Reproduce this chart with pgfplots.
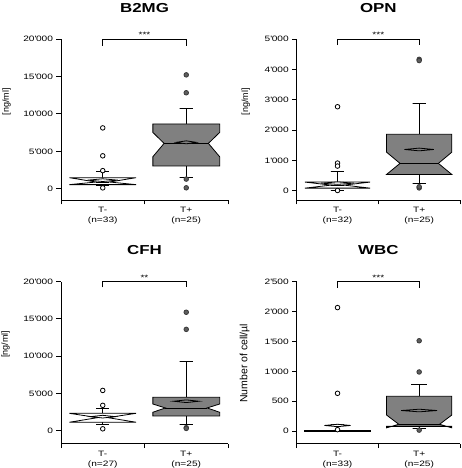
\documentclass[border=0pt]{standalone}
\usepackage{pgfplots}
\pgfplotsset{compat=1.18}
\usepackage{fontspec}
\setmainfont{Liberation Sans}
\newfontfamily\hfont{Liberation Sans}[FakeStretch=1.3]
\definecolor{boxgray}{HTML}{808080}
\definecolor{outgray}{HTML}{5E5E5E}
\definecolor{outedge}{HTML}{3A3A3A}
\newcommand{\q}{\textquotesingle}
\pgfplotsset{
  panel/.style={scale only axis, clip=false, xmin=-0.5, xmax=1.5,
    scaled y ticks=false,
    axis x line*=bottom, axis y line*=left, tick align=outside,
    axis line style={line width=0.9pt},
    xtick={-0.5,0.5,1.5}, xticklabels={},
    major tick length=4.5pt,
    every tick/.style={black, line width=0.9pt},
    extra x ticks={0,1},
    extra x tick style={major tick length=0pt},
    xticklabel style={align=center, yshift=-3.5pt, font=\hfont\fontsize{7.8}{10.5}\selectfont},
    yticklabel style={font=\hfont\fontsize{7.8}{9}\selectfont},
    every axis title/.style={at={(0.5,1.1615)}, anchor=base, font=\hfont\bfseries\fontsize{13}{13}\selectfont},
  },
  wsk/.style={black, line width=0.8pt, no markers},
  bxm/.style={draw=black, fill=white, line width=0.8pt, no markers},
  bxp/.style={draw=black, fill=boxgray, line width=0.8pt, no markers},
  om/.style={only marks, mark=*, mark size=2.3pt, mark options={fill=white, draw=black, line width=0.8pt}},
  op/.style={only marks, mark=*, mark size=2.3pt, mark options={fill=outgray, draw=outedge, line width=0.8pt}},
  sig/.style={black, line width=0.6pt, no markers},
}
\begin{document}
\begin{tikzpicture}
\path[use as bounding box] (0,0) rectangle (461pt,468pt);
% ---------------- B2MG
\begin{axis}[panel, at={(61pt,268pt)}, anchor=south west, width=167pt, height=161pt,
  ymin=-1500, ymax=20000, ytick={0,5000,10000,15000,20000},
  yticklabels={0,5\q000,10\q000,15\q000,20\q000},
  extra x tick labels={{T-\\(n=33)},{T+\\(n=25)}},
  title={B2MG}, ylabel={[ng/ml]},
  ylabel style={at={(axis description cs:-0.326,0.61)}, anchor=center, font=\fontsize{9}{9}\selectfont}]
\addplot[wsk] coordinates {(0,1480)(0,2300)(-0.08,2300)(0.08,2300)};
\addplot[wsk] coordinates {(0,550)(0,400)(-0.08,400)(0.08,400)};
\addplot[bxm] coordinates {(-0.4,550)(-0.08,900)(-0.4,1480)(0.4,1480)(0.08,900)(0.4,550)} --cycle;
\addplot[wsk] coordinates {(-0.08,900)(0.08,900)};
\addplot[bxm] coordinates {(-0.18,1150)(0,1330)(0.18,1150)(0,970)} --cycle;
\addplot[om] coordinates {(0,8130)(0,4400)(0,2420)(0,120)};
\addplot[wsk] coordinates {(1,8660)(1,10780)(0.92,10780)(1.08,10780)};
\addplot[wsk] coordinates {(1,3050)(1,1500)(0.92,1500)(1.08,1500)};
\addplot[bxp] coordinates {(0.6,3050)(0.6,4280)(0.735,6060)(0.6,7520)(0.6,8660)(1.4,8660)(1.4,7520)(1.265,6060)(1.4,4280)(1.4,3050)} --cycle;
\addplot[wsk] coordinates {(0.735,6060)(1.265,6060)};
\addplot[bxp] coordinates {(0.88,6200)(1,6400)(1.12,6200)(1,6000)} --cycle;
\addplot[op] coordinates {(1,15210)(1,12820)(1,1290)(1,130)};
\addplot[sig] coordinates {(0,19100)(0,20000)(1,20000)(1,19100)};
\node[anchor=base, yshift=1.5pt, font=\hfont\fontsize{7.8}{9}\selectfont] at (axis cs:0.5,20000) {***};
\end{axis}
% ---------------- OPN
\begin{axis}[panel, at={(296.7pt,268pt)}, anchor=south west, width=163.3pt, height=161pt,
  ymin=-300, ymax=5000, ytick={0,1000,2000,3000,4000,5000},
  yticklabels={0,1\q000,2\q000,3\q000,4\q000,5\q000},
  extra x tick labels={{T-\\(n=32)},{T+\\(n=25)}},
  title={OPN}, ylabel={[ng/ml]},
  ylabel style={at={(axis description cs:-0.312,0.61)}, anchor=center, font=\fontsize{9}{9}\selectfont}]
\addplot[wsk] coordinates {(0,290)(0,654)(-0.08,654)(0.08,654)};
\addplot[wsk] coordinates {(0,90)(0,30)(-0.08,30)(0.08,30)};
\addplot[bxm] coordinates {(-0.4,90)(-0.08,190)(-0.4,290)(0.4,290)(0.08,190)(0.4,90)} --cycle;
\addplot[wsk] coordinates {(-0.08,190)(0.08,190)};
\addplot[bxm] coordinates {(-0.2,255)(0,295)(0.2,255)(0,215)} --cycle;
\addplot[om] coordinates {(0,2770)(0,915)(0,817)(0,13)};
\addplot[wsk] coordinates {(1,1863)(1,2890)(0.92,2890)(1.08,2890)};
\addplot[wsk] coordinates {(1,540)(1,242)(0.92,242)(1.08,242)};
\addplot[bxp] coordinates {(0.6,540)(0.765,905)(0.6,1275)(0.6,1863)(1.4,1863)(1.4,1275)(1.235,905)(1.4,540)} --cycle;
\addplot[wsk] coordinates {(0.765,905)(1.235,905)};
\addplot[bxp] coordinates {(0.82,1363)(1,1408)(1.18,1363)(1,1318)} --cycle;
\addplot[op] coordinates {(1,4330)(1,4290)(1,98)(1,135)};
\addplot[sig] coordinates {(0,4800)(0,5000)(1,5000)(1,4800)};
\node[anchor=base, yshift=1.5pt, font=\hfont\fontsize{7.8}{9}\selectfont] at (axis cs:0.5,5000) {***};
\end{axis}
% ---------------- CFH
\begin{axis}[panel, at={(61pt,24.3pt)}, anchor=south west, width=167pt, height=162pt,
  ymin=-1750, ymax=20000, ytick={0,5000,10000,15000,20000},
  yticklabels={0,5\q000,10\q000,15\q000,20\q000},
  extra x tick labels={{T-\\(n=27)},{T+\\(n=25)}},
  title={CFH}, ylabel={[ng/ml]},
  title style={at={(0.5,1.167)}},
  ylabel style={at={(axis description cs:-0.332,0.614)}, anchor=center, font=\fontsize{9}{9}\selectfont}]
\addplot[wsk] coordinates {(0,2330)(0,3050)(-0.08,3050)(0.08,3050)};
\addplot[wsk] coordinates {(0,1130)(0,800)(-0.08,800)(0.08,800)};
\addplot[bxm] coordinates {(-0.4,1130)(-0.06,1750)(-0.4,2330)(0.4,2330)(0.06,1750)(0.4,1130)} --cycle;
\addplot[wsk] coordinates {(-0.06,1750)(0.06,1750)};
\addplot[bxm] coordinates {(-0.15,1880)(0,2060)(0.15,1880)(0,1700)} --cycle;
\addplot[om] coordinates {(0,5400)(0,3400)(0,250)};
\addplot[wsk] coordinates {(1,4480)(1,9260)(0.92,9260)(1.08,9260)};
\addplot[wsk] coordinates {(1,1970)(1,860)(0.92,860)(1.08,860)};
\addplot[bxp] coordinates {(0.6,1970)(0.6,2470)(0.75,3050)(0.6,3580)(0.6,4480)(1.4,4480)(1.4,3580)(1.25,3050)(1.4,2470)(1.4,1970)} --cycle;
\addplot[wsk] coordinates {(0.75,3050)(1.25,3050)};
\addplot[bxp] coordinates {(0.85,3950)(1,4130)(1.15,3950)(1,3770)} --cycle;
\addplot[op] coordinates {(1,15900)(1,13600)(1,400)(1,300)};
\addplot[sig] coordinates {(0,19240)(0,20000)(1,20000)(1,19240)};
\node[anchor=base, yshift=1.5pt, font=\hfont\fontsize{7.8}{9}\selectfont] at (axis cs:0.5,20000) {**};
\end{axis}
% ---------------- WBC
\begin{axis}[panel, at={(296.7pt,24.3pt)}, anchor=south west, width=163.3pt, height=162pt,
  ymin=-210, ymax=2500, ytick={0,500,1000,1500,2000,2500},
  yticklabels={0,500,1\q000,1\q500,2\q000,2\q500},
  extra x tick labels={{T-\\(n=33)},{T+\\(n=25)}},
  title={WBC}, ylabel={Number of cell/µl},
  title style={at={(0.5,1.167)}},
  ylabel style={at={(axis description cs:-0.318,0.497)}, anchor=center, font=\fontsize{10.5}{10.5}\selectfont}]
\addplot[wsk] coordinates {(0,12)(0,110)(-0.08,110)(0.08,110)};
\addplot[bxm] coordinates {(-0.4,0)(-0.4,12)(0.4,12)(0.4,0)} --cycle;
\addplot[bxm] coordinates {(-0.16,95)(0,115)(0.16,95)(0,75)} --cycle;
\addplot[om] coordinates {(0,2067)(0,633)(0,25)};
\addplot[wsk] coordinates {(1,583)(1,778)(0.9,778)(1.1,778)};
\addplot[wsk] coordinates {(1,80)(1,40)(0.92,40)(1.08,40)};
\addplot[bxp] coordinates {(0.6,80)(0.6,55)(0.75,115)(0.6,270)(0.6,583)(1.4,583)(1.4,270)(1.25,115)(1.4,55)(1.4,80)} --cycle;
\addplot[wsk] coordinates {(0.75,115)(1.25,115)};
\addplot[bxp] coordinates {(0.78,345)(1,367)(1.22,345)(1,323)} --cycle;
\addplot[op] coordinates {(1,1512)(1,990)(1,17)};
\addplot[sig] coordinates {(0,2400)(0,2500)(1,2500)(1,2400)};
\node[anchor=base, yshift=1.5pt, font=\hfont\fontsize{7.8}{9}\selectfont] at (axis cs:0.5,2500) {***};
\end{axis}
\end{tikzpicture}
\end{document}
